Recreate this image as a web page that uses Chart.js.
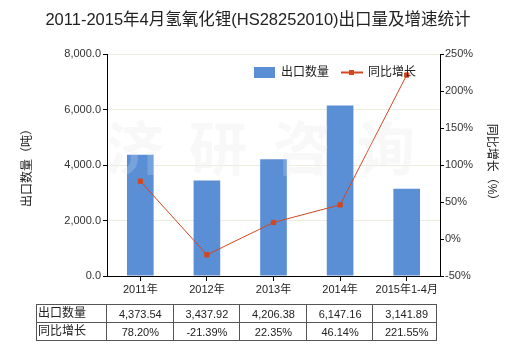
<!DOCTYPE html>
<html>
<head>
<meta charset="utf-8">
<script src="https://cdn.jsdelivr.net/npm/chart.js@4/dist/chart.umd.min.js"></script>
<style>
  html, body { margin: 0; padding: 0; background: #fff; }
  #wrap { width: 520px; height: 350px; position: relative; }
</style>
</head>
<body>
<div id="wrap"><canvas id="chart" width="520" height="350"></canvas></div>
<script>
var titleText = '2011-2015年4月氢氧化锂(HS28252010)出口量及增速统计'
var categories = ['2011年', '2012年', '2013年', '2014年', '2015年1-4月']
var exportQty = [4373.54, 3437.92, 4206.38, 6147.16, 3141.89]
var growthPct = [78.20, -21.39, 22.35, 46.14, 221.55]
var qtyLabel = '出口数量'
var growthLabel = '同比增长'
var leftTitle = '出口数量（吨）'
var rightTitle = '同比增长（%）'
var watermark = ['济', '研', '咨', '询']

var FONT = '"Liberation Sans", "Noto Sans CJK SC", sans-serif'
var barColor = '#5a8fd6'
var lineColor = '#d2471f'

function fmt(v, d) {
    return v.toLocaleString('en-US', { minimumFractionDigits: d, maximumFractionDigits: d })
}

function drawMark(ctx, fill) {
    ctx.save()
    ctx.font = 'bold 58px "Noto Sans CJK SC", sans-serif'
    ctx.fillStyle = fill
    ctx.textAlign = 'center'
    ctx.textBaseline = 'middle'
    var xs = [135, 218, 302, 386]
    watermark.forEach(function (c, i) { ctx.fillText(c, xs[i], 148) })
    ctx.restore()
}

// title, legend, axis titles, watermark and data table
var extras = {
    id: 'extras',
    beforeDatasetsDraw: function (chart) {
        drawMark(chart.ctx, 'rgba(238,238,240,0.45)')
    },
    afterDatasetsDraw: function (chart) {
        drawMark(chart.ctx, 'rgba(255,255,255,0.18)')
    },
    afterDraw: function (chart) {
        var ctx = chart.ctx
        var area = chart.chartArea
        var x = chart.scales.x
        ctx.save()

        // title
        ctx.fillStyle = '#222'
        ctx.font = '16.5px ' + FONT
        ctx.textAlign = 'center'
        ctx.textBaseline = 'middle'
        ctx.fillText(titleText, 258, 20)

        // legend
        ctx.font = '12px ' + FONT
        ctx.textAlign = 'left'
        ctx.fillStyle = barColor
        ctx.fillRect(254, 67, 21, 11)
        ctx.fillStyle = '#222'
        ctx.fillText(qtyLabel, 281, 73)
        ctx.strokeStyle = lineColor
        ctx.lineWidth = 2
        ctx.beginPath()
        ctx.moveTo(341, 72.5)
        ctx.lineTo(363, 72.5)
        ctx.stroke()
        ctx.fillStyle = lineColor
        ctx.fillRect(349, 70, 5, 5)
        ctx.fillStyle = '#222'
        ctx.fillText(growthLabel, 368, 73)

        // axis titles
        ctx.font = '12px ' + FONT
        ctx.textAlign = 'center'
        ctx.save()
        ctx.translate(28, 165)
        ctx.rotate(-Math.PI / 2)
        ctx.fillText(leftTitle, 0, 0)
        ctx.restore()
        ctx.save()
        ctx.translate(491, 165)
        ctx.rotate(Math.PI / 2)
        ctx.fillText(rightTitle, 0, 0)
        ctx.restore()

        // data table
        var top = 304, mid = 322, bot = 340, left = 36
        var w = (area.right - area.left) / categories.length
        ctx.strokeStyle = '#555'
        ctx.lineWidth = 1
        ctx.beginPath()
        ;[top, mid, bot].forEach(function (y) {
            ctx.moveTo(left, y + 0.5)
            ctx.lineTo(area.right - 3, y + 0.5)
        })
        ctx.moveTo(left + 0.5, top)
        ctx.lineTo(left + 0.5, bot + 1)
        for (var i = 0; i <= categories.length; i++) {
            var bx = Math.round(area.left + i * w - (i === categories.length ? 3 : 0)) - 0.5
            ctx.moveTo(bx, top)
            ctx.lineTo(bx, bot + 1)
        }
        ctx.stroke()

        ctx.fillStyle = '#222'
        ctx.font = '12px ' + FONT
        ctx.textAlign = 'left'
        ctx.fillText(qtyLabel, left + 2, (top + mid) / 2 + 1)
        ctx.fillText(growthLabel, left + 2, (mid + bot) / 2 + 1)
        ctx.font = '11px ' + FONT
        ctx.textAlign = 'center'
        for (var j = 0; j < categories.length; j++) {
            var cx = x.getPixelForValue(j)
            ctx.fillText(fmt(exportQty[j], 2), cx, (top + mid) / 2 + 2)
            ctx.fillText(fmt(growthPct[j], 2) + '%', cx, (mid + bot) / 2 + 2)
        }
        ctx.restore()
    }
}

new Chart(document.getElementById('chart'), {
    type: 'bar',
    data: {
        labels: categories,
        datasets: [{
            type: 'line',
            label: growthLabel,
            data: growthPct,
            yAxisID: 'y1',
            borderColor: lineColor,
            backgroundColor: lineColor,
            borderWidth: 1,
            pointStyle: 'rect',
            pointRadius: 3,
            pointHoverRadius: 3,
            tension: 0,
            order: 0
        }, {
            label: qtyLabel,
            data: exportQty,
            yAxisID: 'y',
            backgroundColor: barColor,
            barPercentage: 0.4,
            categoryPercentage: 1,
            order: 1
        }]
    },
    options: {
        responsive: false,
        animation: false,
        events: [],
        layout: { padding: { top: 54, left: 0, right: 0, bottom: 0 } },
        plugins: {
            legend: { display: false },
            title: { display: false },
            tooltip: { enabled: false }
        },
        scales: {
            x: {
                offset: true,
                grid: { offset: false, drawOnChartArea: false, tickLength: 5, color: '#000' },
                border: { color: '#000' },
                ticks: { color: '#222', font: { size: 11, family: FONT }, padding: 2, maxRotation: 0, autoSkip: false },
                afterFit: function (s) { s.height = 74 }
            },
            y: {
                position: 'left',
                min: 0,
                max: 8000,
                ticks: {
                    stepSize: 2000,
                    color: '#333',
                    font: { size: 11, family: FONT },
                    padding: 2,
                    callback: function (v) { return fmt(v, 1) }
                },
                grid: { color: '#ecebdc', tickColor: '#000', tickLength: 4 },
                border: { color: '#000' },
                afterFit: function (s) { s.width = 107 }
            },
            y1: {
                position: 'right',
                min: -50,
                max: 250,
                ticks: {
                    stepSize: 50,
                    color: '#333',
                    font: { size: 11, family: FONT },
                    padding: 1,
                    callback: function (v) { return v + '%' }
                },
                grid: { drawOnChartArea: false, color: '#000', tickLength: 4 },
                border: { color: '#000' },
                afterFit: function (s) { s.width = 80 }
            }
        }
    },
    plugins: [extras]
})
</script>
</body>
</html>
